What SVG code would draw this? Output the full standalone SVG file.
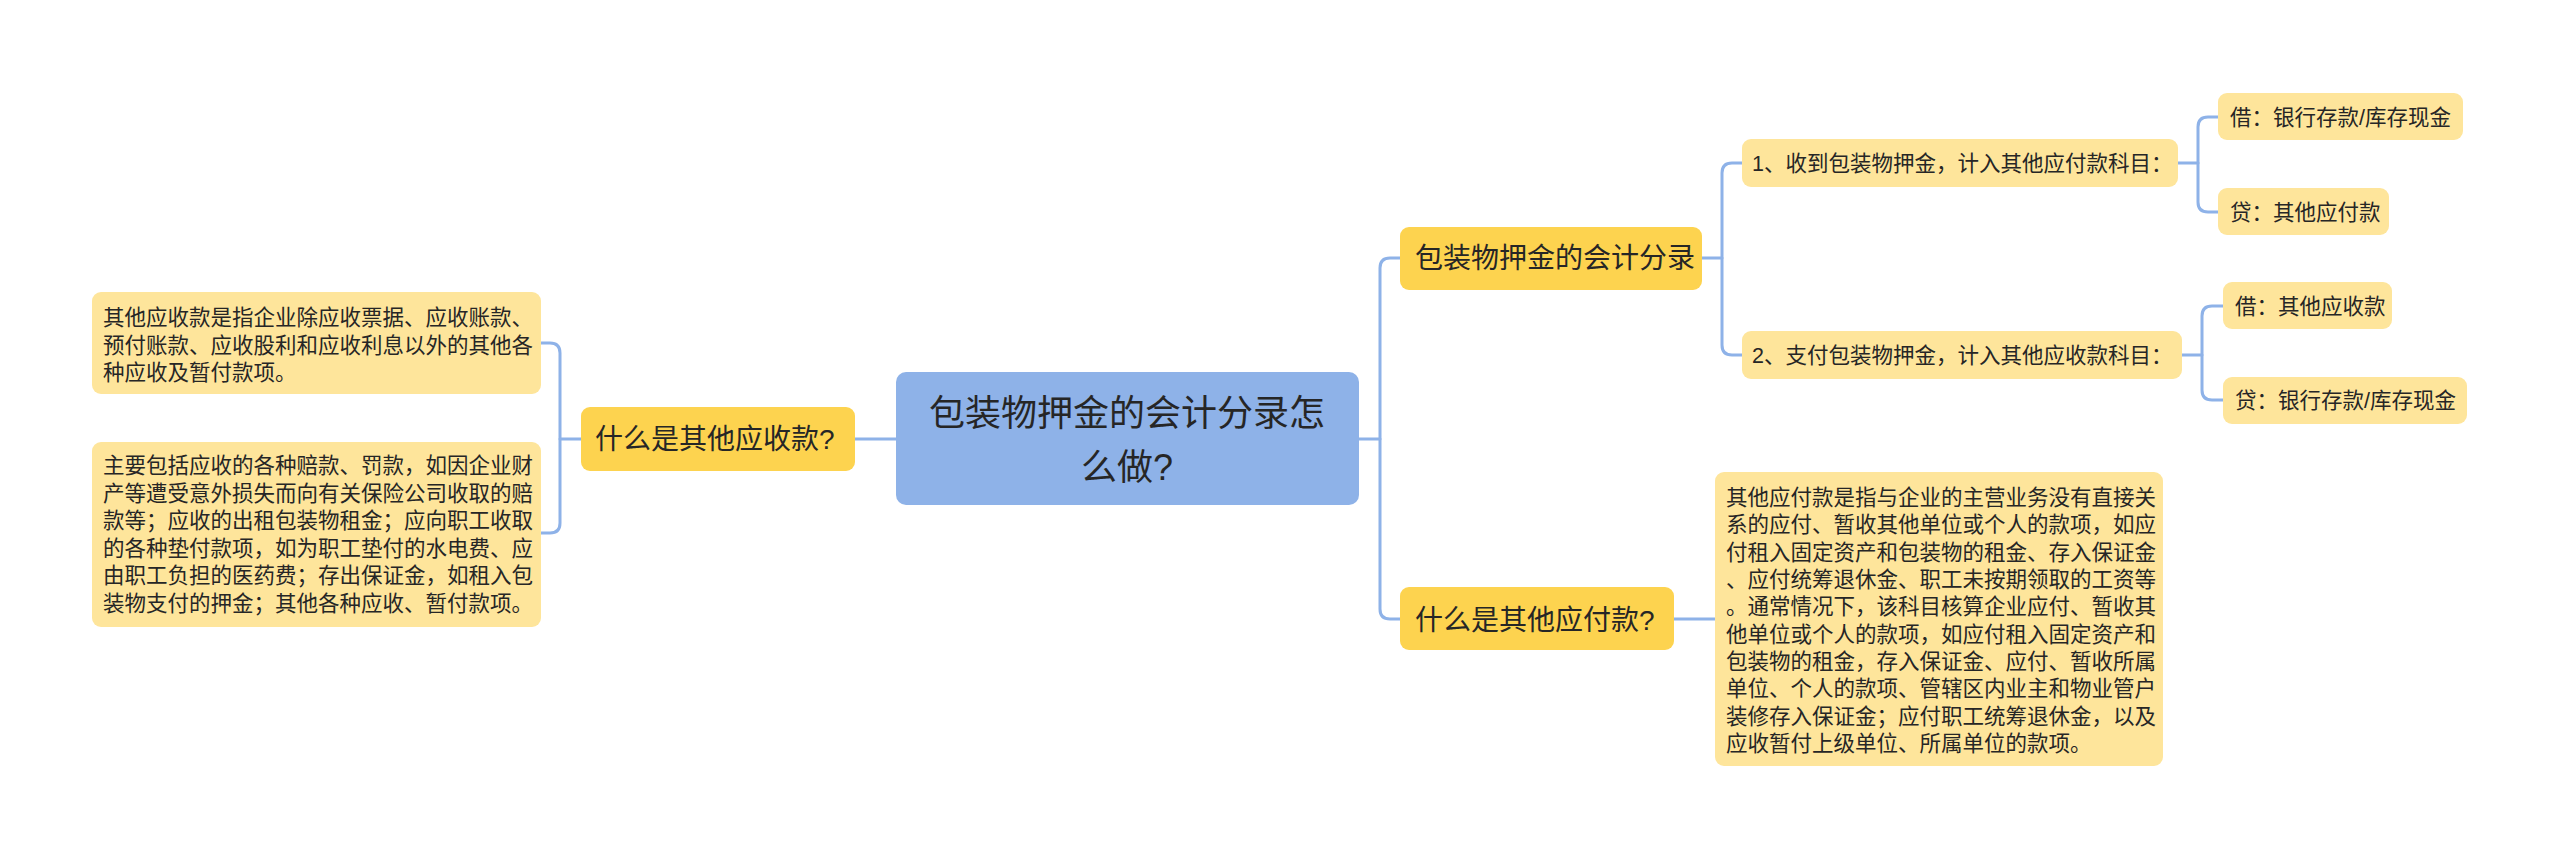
<svg xmlns="http://www.w3.org/2000/svg" width="2560" height="859" viewBox="0 0 2560 859">
<style>
text{font-family:"Liberation Sans","Noto Sans CJK SC",sans-serif;fill:#262626}
.root{fill:#8EB2E8}
.l1{fill:#FDD34F}
.leaf{fill:#FEE59B}
.t-root{font-size:36px}
.t-l1{font-size:28px}
.t-leaf{font-size:21.5px}
#connectors path{fill:none;stroke:#8EB2E8;stroke-width:3;stroke-linecap:round}
</style>
<rect width="2560" height="859" fill="#fff"/>
<g id="connectors">
<path d="M896,439 H855"/>
<path d="M581,439 H560"/>
<path d="M541,343 H550 Q560,343 560,353 V523 Q560,533 550,533 H541"/>
<path d="M1359,439 H1380"/>
<path d="M1400,258 H1390 Q1380,258 1380,268 V609 Q1380,619 1390,619 H1400"/>
<path d="M1702,258 H1722"/>
<path d="M1742,163 H1732 Q1722,163 1722,173 V345 Q1722,355 1732,355 H1742"/>
<path d="M2178,163 H2198"/>
<path d="M2218,117 H2208 Q2198,117 2198,127 V202 Q2198,212 2208,212 H2218"/>
<path d="M2182,355 H2202"/>
<path d="M2223,306 H2212 Q2202,306 2202,316 V390 Q2202,400 2212,400 H2223"/>
<path d="M1674,619 H1715"/>
</g>
<g id="root">
<rect class="root" x="896" y="372" width="463" height="133" rx="10"/>
<text class="t-root" x="1127" y="426" text-anchor="middle">包装物押金的会计分录怎</text>
<text class="t-root" x="1127" y="480" text-anchor="middle">么做?</text>
</g>
<g id="q-receivable">
<rect class="l1" x="581" y="407" width="274" height="64" rx="9"/>
<text class="t-l1" x="595" y="449">什么是其他应收款?</text>
</g>
<g id="receivable-def">
<rect class="leaf" x="92" y="292" width="449" height="102" rx="9"/>
<text class="t-leaf" x="103" y="325">其他应收款是指企业除应收票据、应收账款、</text>
<text class="t-leaf" x="103" y="352.5">预付账款、应收股利和应收利息以外的其他各</text>
<text class="t-leaf" x="103" y="380">种应收及暂付款项。</text>
</g>
<g id="receivable-items">
<rect class="leaf" x="92" y="442" width="449" height="185" rx="9"/>
<text class="t-leaf" x="103" y="473">主要包括应收的各种赔款、罚款，如因企业财</text>
<text class="t-leaf" x="103" y="500.6">产等遭受意外损失而向有关保险公司收取的赔</text>
<text class="t-leaf" x="103" y="528.2">款等；应收的出租包装物租金；应向职工收取</text>
<text class="t-leaf" x="103" y="555.8">的各种垫付款项，如为职工垫付的水电费、应</text>
<text class="t-leaf" x="103" y="583.4">由职工负担的医药费；存出保证金，如租入包</text>
<text class="t-leaf" x="103" y="611">装物支付的押金；其他各种应收、暂付款项。</text>
</g>
<g id="entries">
<rect class="l1" x="1400" y="227" width="302" height="63" rx="9"/>
<text class="t-l1" x="1415" y="268">包装物押金的会计分录</text>
</g>
<g id="entry1">
<rect class="leaf" x="1742" y="139" width="436" height="48" rx="9"/>
<text class="t-leaf" x="1752" y="171">1、收到包装物押金，计入其他应付款科目：</text>
</g>
<g id="entry1-debit">
<rect class="leaf" x="2218" y="93" width="245" height="47" rx="9"/>
<text class="t-leaf" x="2230" y="125">借：银行存款/库存现金</text>
</g>
<g id="entry1-credit">
<rect class="leaf" x="2218" y="188" width="171" height="47" rx="9"/>
<text class="t-leaf" x="2230" y="220">贷：其他应付款</text>
</g>
<g id="entry2">
<rect class="leaf" x="1742" y="331" width="440" height="48" rx="9"/>
<text class="t-leaf" x="1752" y="363">2、支付包装物押金，计入其他应收款科目：</text>
</g>
<g id="entry2-debit">
<rect class="leaf" x="2223" y="282" width="169" height="47" rx="9"/>
<text class="t-leaf" x="2235" y="314">借：其他应收款</text>
</g>
<g id="entry2-credit">
<rect class="leaf" x="2223" y="377" width="244" height="47" rx="9"/>
<text class="t-leaf" x="2235" y="408">贷：银行存款/库存现金</text>
</g>
<g id="q-payable">
<rect class="l1" x="1400" y="587" width="274" height="63" rx="9"/>
<text class="t-l1" x="1415" y="630">什么是其他应付款?</text>
</g>
<g id="payable-def">
<rect class="leaf" x="1715" y="472" width="448" height="294" rx="9"/>
<text class="t-leaf" x="1726" y="505">其他应付款是指与企业的主营业务没有直接关</text>
<text class="t-leaf" x="1726" y="532.3">系的应付、暂收其他单位或个人的款项，如应</text>
<text class="t-leaf" x="1726" y="559.7">付租入固定资产和包装物的租金、存入保证金</text>
<text class="t-leaf" x="1726" y="587">、应付统筹退休金、职工未按期领取的工资等</text>
<text class="t-leaf" x="1726" y="614.3">。通常情况下，该科目核算企业应付、暂收其</text>
<text class="t-leaf" x="1726" y="641.7">他单位或个人的款项，如应付租入固定资产和</text>
<text class="t-leaf" x="1726" y="669">包装物的租金，存入保证金、应付、暂收所属</text>
<text class="t-leaf" x="1726" y="696.3">单位、个人的款项、管辖区内业主和物业管户</text>
<text class="t-leaf" x="1726" y="723.7">装修存入保证金；应付职工统筹退休金，以及</text>
<text class="t-leaf" x="1726" y="751">应收暂付上级单位、所属单位的款项。</text>
</g>
</svg>
